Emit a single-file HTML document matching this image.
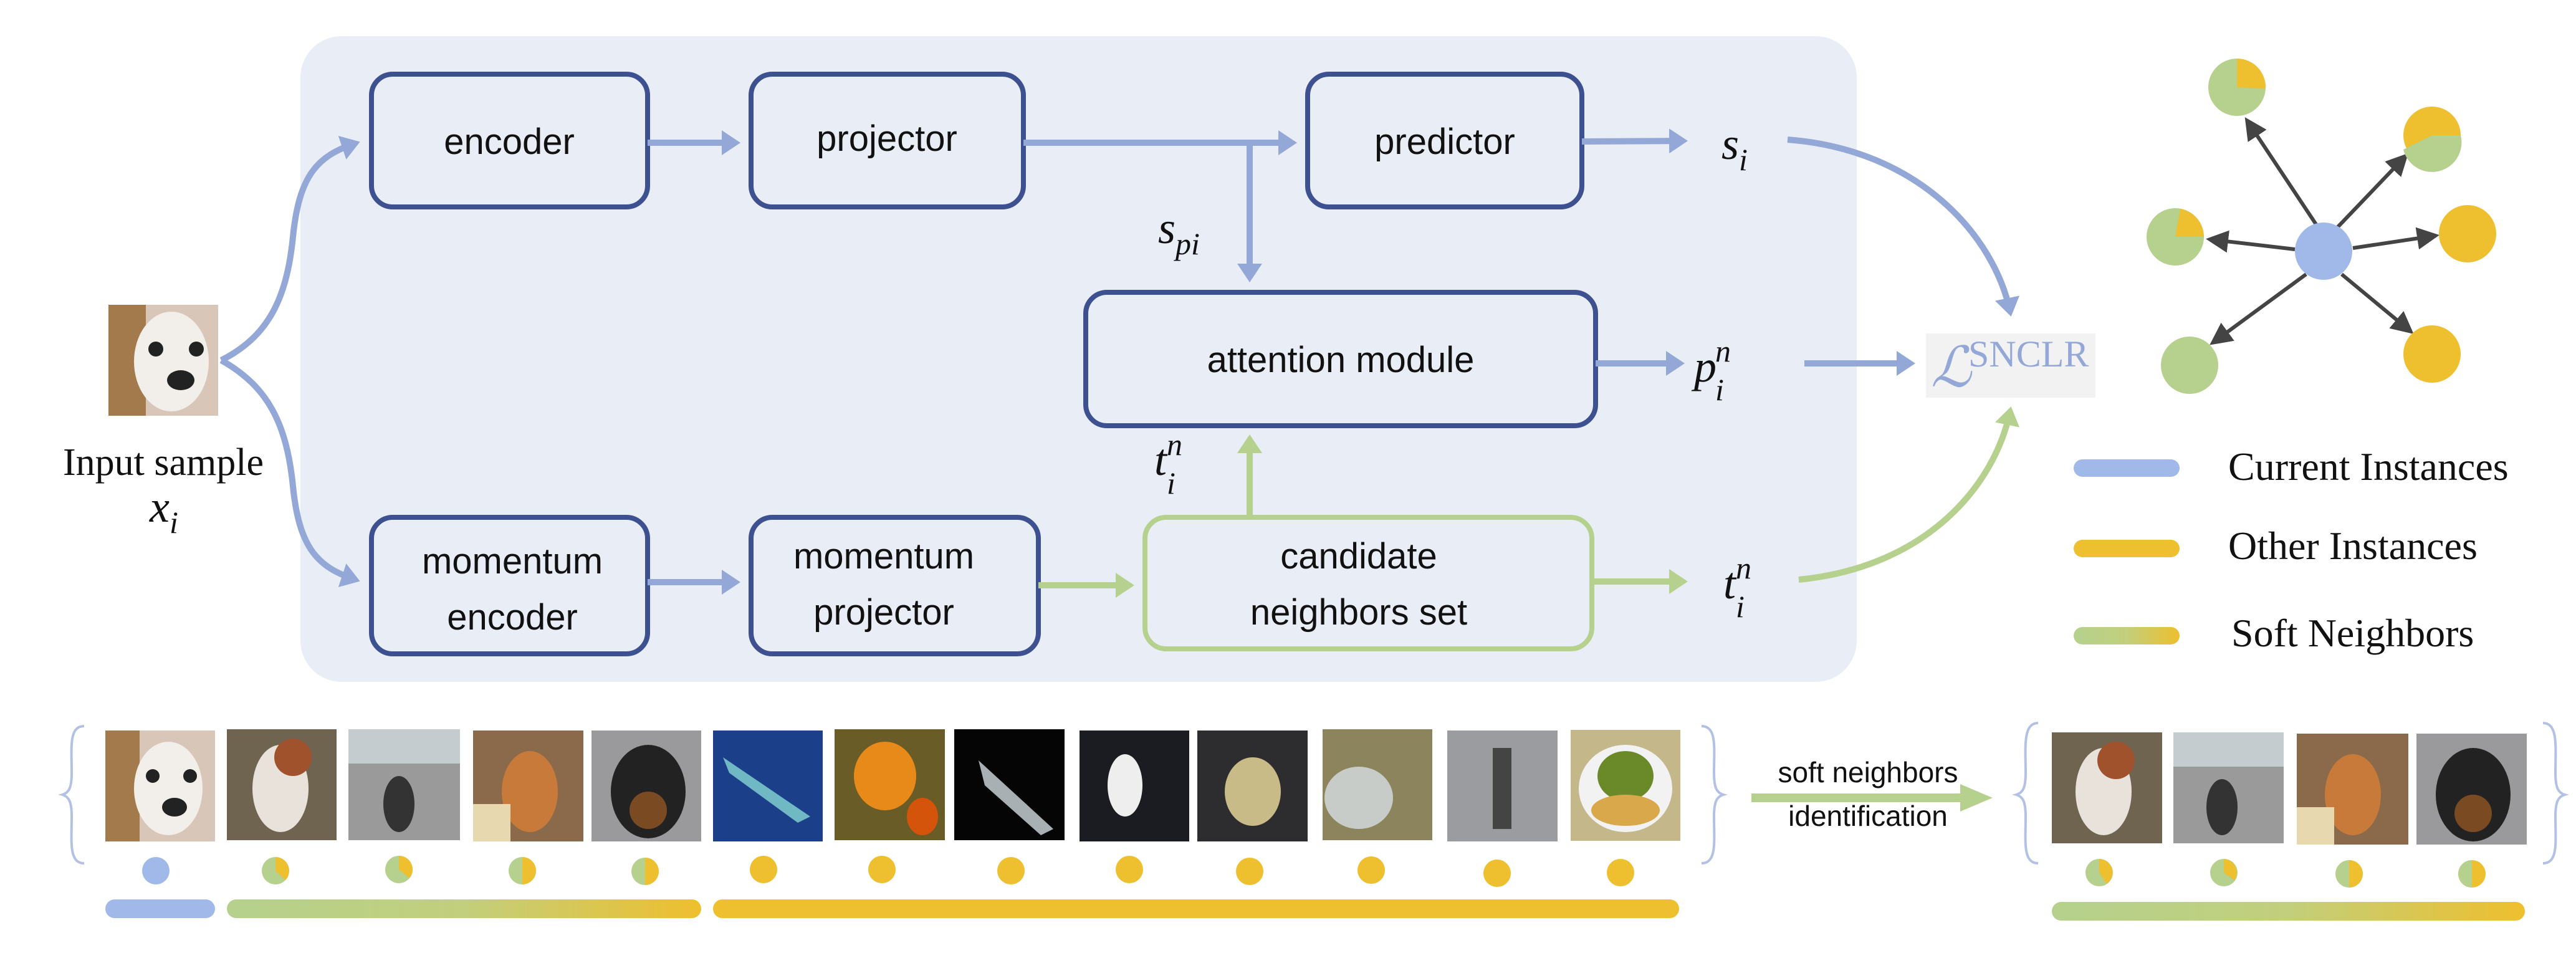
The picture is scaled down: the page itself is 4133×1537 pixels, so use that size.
<!DOCTYPE html>
<html><head><meta charset="utf-8"><style>
html,body{margin:0;padding:0;background:#fff;}
svg{display:block;}
.box{font-family:"Liberation Sans",sans-serif;font-size:58px;fill:#111;text-anchor:middle;}
.m{font-family:"Liberation Serif",serif;font-style:italic;fill:#111;}
.leg{font-family:"Liberation Serif",serif;font-size:64px;fill:#111;}
</style></head><body>
<svg width="4133" height="1537" viewBox="0 0 4133 1537" xmlns="http://www.w3.org/2000/svg">
<defs>
<marker id="ab" markerWidth="4" markerHeight="4" refX="2.2" refY="2" orient="auto" markerUnits="strokeWidth"><path d="M0,0 L3,2 L0,4 z" fill="#94a8d8"/></marker>
<marker id="ag" markerWidth="4" markerHeight="4" refX="2.2" refY="2" orient="auto" markerUnits="strokeWidth"><path d="M0,0 L3,2 L0,4 z" fill="#b5d18d"/></marker>
<marker id="ak" markerWidth="6" markerHeight="6" refX="5" refY="3" orient="auto" markerUnits="strokeWidth"><path d="M0,0 L6,3 L0,6 z" fill="#444"/></marker>
<linearGradient id="gy" x1="0" x2="1" y1="0" y2="0"><stop offset="0" stop-color="#b5d18d"/><stop offset="0.5" stop-color="#c2cf7c"/><stop offset="1" stop-color="#eebf2e"/></linearGradient>
</defs>

<rect x="482" y="58" width="2497" height="1036" rx="66" fill="#e9edf6"/>

<g fill="none" stroke="#3d5190" stroke-width="8">
<rect x="596" y="119" width="443" height="213" rx="34"/>
<rect x="1205" y="119" width="437" height="213" rx="34"/>
<rect x="2098" y="119" width="440" height="213" rx="34"/>
<rect x="1742" y="469" width="818" height="214" rx="34"/>
<rect x="596" y="830" width="443" height="219" rx="34"/>
<rect x="1205" y="830" width="461" height="219" rx="34"/>
</g>
<rect x="1837" y="830" width="717" height="211" rx="34" fill="none" stroke="#b5d18d" stroke-width="8"/>

<text class="box" x="817" y="247">encoder</text>
<text class="box" x="1423" y="242">projector</text>
<text class="box" x="2318" y="247">predictor</text>
<text class="box" x="2151" y="597">attention module</text>
<text class="box" x="822" y="920">momentum</text>
<text class="box" x="822" y="1010">encoder</text>
<text class="box" x="1418" y="912">momentum</text>
<text class="box" x="1418" y="1002">projector</text>
<text class="box" x="2180" y="912">candidate</text>
<text class="box" x="2180" y="1002">neighbors set</text>

<g fill="none" stroke="#94a8d8" stroke-width="10">
<line x1="1039" y1="229" x2="1180" y2="229" marker-end="url(#ab)"/>
<line x1="1642" y1="229" x2="2073" y2="229" marker-end="url(#ab)"/>
<line x1="2005" y1="229" x2="2005" y2="445" marker-end="url(#ab)"/>
<line x1="2538" y1="227" x2="2700" y2="226" marker-end="url(#ab)"/>
<line x1="2560" y1="583" x2="2695" y2="583" marker-end="url(#ab)"/>
<line x1="2895" y1="583" x2="3065" y2="583" marker-end="url(#ab)"/>
<line x1="1039" y1="934" x2="1180" y2="934" marker-end="url(#ab)"/>
<path d="M355,578 C430,540 460,480 470,380 C480,280 510,250 570,230" marker-end="url(#ab)"/>
<path d="M355,578 C430,620 460,680 470,780 C480,880 510,910 570,930" marker-end="url(#ab)"/>
<path d="M2868,224 C3080,240 3200,380 3225,500" marker-end="url(#ab)"/>
</g>
<g fill="none" stroke="#b5d18d" stroke-width="10">
<line x1="1666" y1="939" x2="1812" y2="939" marker-end="url(#ag)"/>
<line x1="2005" y1="830" x2="2005" y2="705" marker-end="url(#ag)"/>
<line x1="2554" y1="933" x2="2700" y2="933" marker-end="url(#ag)"/>
<path d="M2886,930 C3090,910 3200,780 3225,660" marker-end="url(#ag)"/>
</g>

<text class="m" x="2762" y="255" font-size="72">s<tspan font-size="50" dy="18">i</tspan></text>
<text class="m" x="1858" y="390" font-size="72">s<tspan font-size="50" dy="18">pi</tspan></text>
<text class="m" x="2718" y="612" font-size="72">p<tspan font-size="50" dy="-32" dx="-2">n</tspan><tspan font-size="50" dx="-25" dy="62">i</tspan></text>
<text class="m" x="1852" y="762" font-size="72">t<tspan font-size="50" dy="-32">n</tspan><tspan font-size="50" dx="-25" dy="62">i</tspan></text>
<text class="m" x="2765" y="960" font-size="72">t<tspan font-size="50" dy="-32">n</tspan><tspan font-size="50" dx="-25" dy="62">i</tspan></text>

<rect x="3090" y="535" width="272" height="103" fill="#f2f2f2"/>
<text x="3098" y="620" font-family="Liberation Serif,serif" font-style="italic" font-size="90" fill="#94a8d8">ℒ</text>
<text x="3158" y="588" font-family="Liberation Serif,serif" font-size="60" fill="#94a8d8">SNCLR</text>

<rect x="174" y="489" width="176" height="178" fill="#d8c7b8"/>
<rect x="174" y="489" width="60" height="178" fill="#a27a4c"/>
<ellipse cx="275" cy="580" rx="60" ry="80" fill="#f2eeea"/>
<circle cx="250" cy="560" r="12" fill="#222"/><circle cx="315" cy="560" r="12" fill="#222"/>
<ellipse cx="290" cy="610" rx="22" ry="16" fill="#222"/>
<text x="262" y="762" font-family="Liberation Serif,serif" font-size="62" text-anchor="middle" fill="#111">Input sample</text>
<text class="m" x="240" y="837" font-size="72">x<tspan font-size="50" dy="18">i</tspan></text>

<g stroke="#444" stroke-width="6" fill="none">
<line x1="3716" y1="360" x2="3605" y2="193" marker-end="url(#ak)"/>
<line x1="3750" y1="365" x2="3860" y2="250" marker-end="url(#ak)"/>
<line x1="3682" y1="400" x2="3545" y2="384" marker-end="url(#ak)"/>
<line x1="3775" y1="398" x2="3908" y2="378" marker-end="url(#ak)"/>
<line x1="3700" y1="440" x2="3550" y2="550" marker-end="url(#ak)"/>
<line x1="3757" y1="440" x2="3868" y2="532" marker-end="url(#ak)"/>
</g>
<circle cx="3728" cy="403" r="46" fill="#a0b9e8"/>
<circle cx="3589" cy="140" r="46" fill="#b5d18d"/><path d="M3589,140 L3589,94 A46,46 0 0 1 3635,142 z" fill="#eebf2e"/>
<circle cx="3902" cy="217" r="46" fill="#eebf2e"/><path d="M3856,240 A46,46 0 0 0 3948,217 L3902,217 z" fill="#b5d18d"/>
<circle cx="3490" cy="380" r="46" fill="#b5d18d"/><path d="M3490,380 L3498,335 A46,46 0 0 1 3536,380 z" fill="#eebf2e"/>
<circle cx="3959" cy="375" r="46" fill="#eebf2e"/>
<circle cx="3513" cy="586" r="46" fill="#b5d18d"/>
<circle cx="3902" cy="568" r="46" fill="#eebf2e"/>

<rect x="3327" y="737" width="170" height="28" rx="14" fill="#a0b9e8"/>
<rect x="3327" y="866" width="170" height="28" rx="14" fill="#eebf2e"/>
<rect x="3327" y="1006" width="170" height="28" rx="14" fill="url(#gy)"/>
<text class="leg" x="3575" y="770">Current Instances</text>
<text class="leg" x="3575" y="897">Other Instances</text>
<text class="leg" x="3580" y="1037">Soft Neighbors</text>

<rect x="169" y="1172" width="176" height="178" fill="#d8c7b8"/>
<rect x="169" y="1172" width="55" height="178" fill="#a27a4c"/>
<ellipse cx="270" cy="1265" rx="55" ry="75" fill="#f2eeea"/>
<circle cx="245" cy="1245" r="11" fill="#222"/><circle cx="305" cy="1245" r="11" fill="#222"/><ellipse cx="280" cy="1295" rx="20" ry="15" fill="#222"/>
<rect x="364" y="1170" width="176" height="178" fill="#6f6450"/><ellipse cx="450" cy="1265" rx="45" ry="70" fill="#e9e2da"/><ellipse cx="470" cy="1215" rx="30" ry="30" fill="#a0522d"/>
<rect x="559" y="1170" width="179" height="178" fill="#9a9a9a"/><rect x="559" y="1170" width="179" height="55" fill="#c4ccd0"/><ellipse cx="640" cy="1290" rx="25" ry="45" fill="#333"/>
<rect x="759" y="1172" width="177" height="178" fill="#8a6a4a"/><ellipse cx="850" cy="1270" rx="45" ry="65" fill="#c77a3a"/><rect x="759" y="1290" width="60" height="60" fill="#e8d8b0"/>
<rect x="949" y="1172" width="176" height="178" fill="#9a9a9c"/><ellipse cx="1040" cy="1270" rx="60" ry="75" fill="#222"/><ellipse cx="1040" cy="1300" rx="30" ry="30" fill="#7a4a22"/>
<rect x="1144" y="1172" width="176" height="178" fill="#1c3f8a"/><path d="M1160,1215 L1300,1310 L1280,1320 L1170,1240 z" fill="#6fb8c4"/>
<rect x="1339" y="1170" width="177" height="178" fill="#6a5c26"/><ellipse cx="1420" cy="1245" rx="50" ry="55" fill="#e88a1a"/><ellipse cx="1480" cy="1310" rx="25" ry="30" fill="#d4540c"/>
<rect x="1531" y="1170" width="177" height="178" fill="#050505"/><path d="M1570,1220 L1690,1330 L1670,1340 L1580,1260 z" fill="#a9b0b3"/>
<rect x="1732" y="1172" width="176" height="178" fill="#1a1c22"/><ellipse cx="1805" cy="1260" rx="28" ry="50" fill="#eee"/>
<rect x="1921" y="1172" width="177" height="178" fill="#2d2d30"/><ellipse cx="2010" cy="1270" rx="45" ry="55" fill="#c8bb88"/>
<rect x="2122" y="1170" width="176" height="178" fill="#8b845c"/><ellipse cx="2180" cy="1280" rx="55" ry="50" fill="#c8ccc8"/>
<rect x="2322" y="1172" width="177" height="178" fill="#9a9ca0"/><rect x="2395" y="1200" width="30" height="130" fill="#444"/>
<rect x="2520" y="1171" width="176" height="178" fill="#c4b88a"/><ellipse cx="2608" cy="1265" rx="75" ry="70" fill="#f2f2f2"/><ellipse cx="2608" cy="1245" rx="45" ry="40" fill="#6a8a2a"/><ellipse cx="2608" cy="1300" rx="55" ry="25" fill="#d9a84a"/>
<rect x="3292" y="1175" width="177" height="178" fill="#6f6450"/><ellipse cx="3375" cy="1270" rx="45" ry="70" fill="#e9e2da"/><ellipse cx="3395" cy="1220" rx="30" ry="30" fill="#a0522d"/>
<rect x="3487" y="1175" width="177" height="178" fill="#9a9a9a"/><rect x="3487" y="1175" width="177" height="55" fill="#c4ccd0"/><ellipse cx="3565" cy="1295" rx="25" ry="45" fill="#333"/>
<rect x="3685" y="1177" width="179" height="178" fill="#8a6a4a"/><ellipse cx="3775" cy="1275" rx="45" ry="65" fill="#c77a3a"/><rect x="3685" y="1295" width="60" height="60" fill="#e8d8b0"/>
<rect x="3877" y="1177" width="177" height="178" fill="#9a9a9c"/><ellipse cx="3968" cy="1275" rx="60" ry="75" fill="#222"/><ellipse cx="3968" cy="1305" rx="30" ry="30" fill="#7a4a22"/>

<g fill="none" stroke="#b3c2e4" stroke-width="4">
<path d="M135,1165 C110,1165 115,1200 115,1240 C115,1265 110,1272 100,1275 C110,1278 115,1285 115,1310 C115,1350 110,1385 135,1385"/>
<path d="M2730,1165 C2755,1165 2750,1200 2750,1240 C2750,1265 2755,1272 2765,1275 C2755,1278 2750,1285 2750,1310 C2750,1350 2755,1385 2730,1385"/>
<path d="M3270,1160 C3245,1160 3250,1200 3250,1240 C3250,1265 3245,1272 3235,1275 C3245,1278 3250,1285 3250,1310 C3250,1350 3245,1385 3270,1385"/>
<path d="M4080,1160 C4105,1160 4100,1200 4100,1240 C4100,1265 4105,1272 4115,1275 C4105,1278 4100,1285 4100,1310 C4100,1350 4105,1385 4080,1385"/>
</g>

<rect x="2810" y="1273" width="340" height="14" fill="#b5d18d"/>
<path d="M3145,1258 L3197,1280 L3145,1302 z" fill="#b5d18d"/>
<text x="2997" y="1255" font-family="Liberation Sans,sans-serif" font-size="46" text-anchor="middle" fill="#111">soft neighbors</text>
<text x="2997" y="1325" font-family="Liberation Sans,sans-serif" font-size="46" text-anchor="middle" fill="#111">identification</text>

<circle cx="250" cy="1397" r="22" fill="#a0b9e8"/>
<circle cx="442" cy="1397" r="22" fill="#b5d18d"/><path d="M442,1397 L442,1375 A22,22 0 0 1 458,1412 z" fill="#eebf2e"/>
<circle cx="640" cy="1395" r="22" fill="#b5d18d"/><path d="M640,1395 L640,1373 A22,22 0 0 1 657,1409 z" fill="#eebf2e"/>
<circle cx="838" cy="1397" r="22" fill="#b5d18d"/><path d="M838,1397 L838,1375 A22,22 0 0 1 838,1419 z" fill="#eebf2e"/>
<circle cx="1035" cy="1398" r="22" fill="#b5d18d"/><path d="M1035,1398 L1035,1376 A22,22 0 0 1 1035,1420 z" fill="#eebf2e"/>
<g fill="#eebf2e">
<circle cx="1225" cy="1395" r="22"/><circle cx="1415" cy="1395" r="22"/><circle cx="1622" cy="1397" r="22"/>
<circle cx="1812" cy="1395" r="22"/><circle cx="2005" cy="1398" r="22"/><circle cx="2200" cy="1396" r="22"/>
<circle cx="2402" cy="1401" r="22"/><circle cx="2600" cy="1400" r="22"/>
</g>
<circle cx="3368" cy="1400" r="22" fill="#b5d18d"/><path d="M3368,1400 L3368,1378 A22,22 0 0 1 3380,1418 z" fill="#eebf2e"/>
<circle cx="3568" cy="1400" r="22" fill="#b5d18d"/><path d="M3568,1400 L3568,1378 A22,22 0 0 1 3585,1412 z" fill="#eebf2e"/>
<circle cx="3769" cy="1402" r="22" fill="#b5d18d"/><path d="M3769,1402 L3769,1380 A22,22 0 0 1 3769,1424 z" fill="#eebf2e"/>
<circle cx="3966" cy="1402" r="22" fill="#eebf2e"/><path d="M3966,1402 L3966,1380 A22,22 0 0 0 3966,1424 z" fill="#b5d18d"/>

<rect x="169" y="1443" width="176" height="30" rx="15" fill="#a0b9e8"/>
<rect x="364" y="1443" width="761" height="30" rx="15" fill="url(#gy)"/>
<rect x="1144" y="1443" width="1550" height="30" rx="15" fill="#eebf2e"/>
<rect x="3292" y="1447" width="759" height="30" rx="15" fill="url(#gy)"/>
</svg>
</body></html>
